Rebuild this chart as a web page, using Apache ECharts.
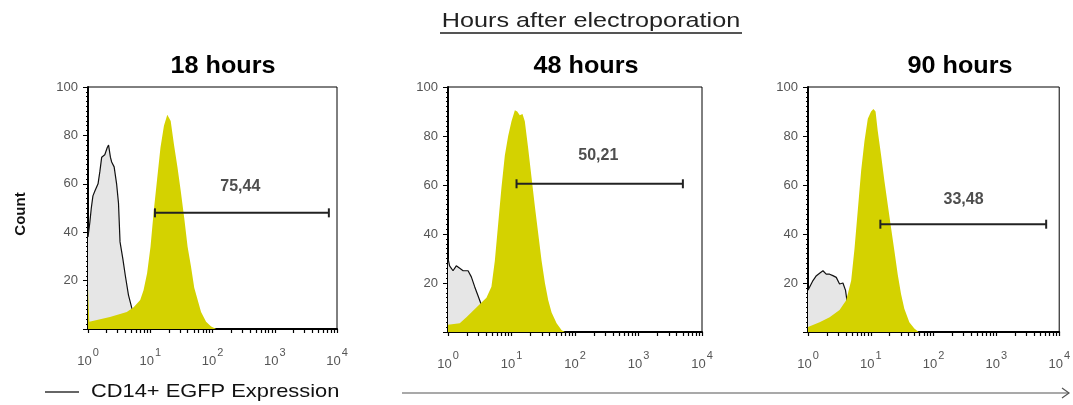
<!DOCTYPE html>
<html>
<head>
<meta charset="utf-8">
<script src="https://cdn.jsdelivr.net/npm/echarts@6/dist/echarts.min.js"></script>
<style>
  html, body { margin: 0; padding: 0; background: #fff; }
  #chart { width: 1073px; height: 405px; }
</style>
</head>
<body>
<div id="chart"></div>
<script>
// panel titles
const panelTitles = ["18 hours", "48 hours", "90 hours"];

// control (unstained) histograms: [intensity, count]
const control18 = [[1, 38], [1.07, 44], [1.13, 50], [1.2, 55], [1.29, 57], [1.45, 60], [1.55, 65], [1.66, 71], [1.86, 72], [2.04, 75], [2.14, 76], [2.29, 71], [2.4, 69], [2.63, 67], [2.88, 60], [3.09, 52], [3.27, 36], [3.63, 29], [3.98, 22], [4.47, 14], [5.01, 9], [5.6, 5], [6.3, 0]];
const control48 = [[1, 30], [1.06, 27], [1.2, 25], [1.35, 27], [1.53, 26], [1.73, 25], [2.07, 25], [2.33, 22.5], [2.63, 18.5], [2.95, 15], [3.36, 11], [3.98, 5], [5.0, 0]];
const control90 = [[1, 17], [1.06, 17], [1.2, 21], [1.36, 23], [1.53, 24], [1.73, 25], [1.95, 23.6], [2.21, 23.6], [2.49, 23], [2.82, 22.3], [3.18, 19.6], [3.6, 20], [3.96, 17], [4.6, 5], [5.6, 0]];

// EGFP histograms
const egfp18 = [[1, 17], [1.05, 3], [1.13, 2.5], [2.25, 5], [4.2, 7], [5.4, 9], [6.9, 12], [7.8, 16], [8.9, 23], [10.1, 34], [11.4, 49], [12.9, 62], [14.6, 75], [16.6, 84], [18.8, 88.5], [20, 88], [21.3, 86], [24.1, 76], [27.3, 67], [30.9, 57], [35.1, 46], [39.8, 34], [45, 26], [50.9, 17], [57.8, 12], [65.5, 7], [78.9, 3], [95, 1], [115, 0]];
const egfp48 = [[1, 3], [1.06, 3], [1.53, 3.6], [1.95, 6], [2.8, 10], [4.03, 14], [4.83, 18.5], [5.46, 29], [6.16, 44], [6.95, 59], [7.85, 72], [8.86, 80], [10, 86], [11.3, 90.5], [12.3, 90], [13.5, 88.5], [14.9, 89], [16.2, 86], [18.3, 75], [20.7, 63], [23.4, 51], [26.4, 40], [29.8, 29], [33.6, 20], [37.9, 13], [42.8, 8], [51.3, 3.6], [61.6, 0.7], [69.5, 0]];
const egfp90 = [[1, 2], [1.06, 2], [1.53, 4], [2.21, 6], [3.18, 9], [4.06, 13], [4.87, 21], [5.5, 34], [6.22, 50], [7.03, 66], [7.93, 78], [8.96, 87], [10.1, 90], [11, 91], [11.9, 90], [12.9, 82], [14.6, 72], [16.5, 61.5], [18.6, 52], [21, 42.6], [23.8, 33], [26.8, 23.6], [30.3, 15.5], [34.2, 9.5], [41.1, 4], [49.3, 1.4], [57.8, 0]];

// gates: [from, to, count level] and percentage label
const gates = [[11.9, 7400, 48], [12, 5000, 60.5], [14.2, 6200, 44]];
const gateLabels = ["75,44", "50,21", "33,48"];
const gateLabelPos = [[280, 59], [233, 72], [300, 54]];

const yTicks = [20, 40, 60, 80, 100];
const xMajorTicks = [1, 10, 100, 1000, 10000];
const xMinorTicks = [2, 3, 4, 5, 6, 7, 8, 9, 20, 30, 40, 50, 60, 70, 80, 90, 200, 300, 400, 500, 600, 700, 800, 900, 2000, 3000, 4000, 5000, 6000, 7000, 8000, 9000];

const controls = [control18, control48, control90];
const egfps = [egfp18, egfp48, egfp90];

const grids = [
  { left: 88, top: 87, width: 249, height: 242 },
  { left: 448, top: 87, width: 254, height: 245 },
  { left: 808, top: 87, width: 253, height: 245 }
];

const chart = echarts.init(document.getElementById("chart"), null, { renderer: "canvas" });

const xAxes = grids.map((g, i) => ({
  type: "log",
  logBase: 10,
  gridIndex: i,
  min: 1,
  max: 10000,
  axisLine: { show: true, onZero: false, lineStyle: { color: "#000", width: 2 } },
  axisTick: { show: true, length: 4, customValues: xMajorTicks.concat(xMinorTicks), lineStyle: { color: "#000", width: 1.2 } },
  splitLine: { show: false },
  axisLabel: {
    margin: 18,
    customValues: xMajorTicks,
    formatter: (v) => "{b|10}{s|" + Math.round(Math.log10(v)) + "}",
    rich: {
      b: { fontSize: 13, color: "#555", fontFamily: "Liberation Sans", verticalAlign: "bottom" },
      s: { fontSize: 11, color: "#555", fontFamily: "Liberation Sans", verticalAlign: "bottom", padding: [0, 0, 10, 1] }
    }
  }
}));

const yAxes = grids.map((g, i) => ({
  type: "value",
  gridIndex: i,
  min: 0,
  max: 100,
  interval: 20,
  axisLine: { show: true, lineStyle: { color: "#000", width: 2 } },
  axisTick: { show: true, length: 5, lineStyle: { color: "#000" } },
  minorTick: { show: true, splitNumber: 10, length: 2, lineStyle: { color: "#000" } },
  splitLine: { show: false },
  axisLabel: {
    color: "#555",
    fontSize: 13,
    fontFamily: "Liberation Sans",
    margin: 10,
    formatter: (v) => (yTicks.includes(v) ? String(v) : "")
  }
}));

const series = [];
grids.forEach((g, i) => {
  series.push({
    type: "line",
    xAxisIndex: i,
    yAxisIndex: i,
    data: controls[i],
    symbol: "none",
    lineStyle: { color: "#111", width: 1.2 },
    areaStyle: { color: "#e6e6e6", opacity: 1 },
    z: 2
  });
  series.push({
    type: "line",
    xAxisIndex: i,
    yAxisIndex: i,
    data: egfps[i],
    symbol: "none",
    lineStyle: { width: 0 },
    areaStyle: { color: "#d4d200", opacity: 1 },
    z: 3
  });
  const gt = gates[i];
  series.push({
    type: "line",
    xAxisIndex: i,
    yAxisIndex: i,
    data: [[gt[0], gt[2]], [gt[1], gt[2]]],
    symbol: "rect",
    symbolSize: [2, 9],
    itemStyle: { color: "#222" },
    lineStyle: { color: "#222", width: 2 },
    z: 4
  });
  series.push({
    type: "scatter",
    xAxisIndex: i,
    yAxisIndex: i,
    data: [gateLabelPos[i]],
    symbolSize: 0,
    label: {
      show: true,
      position: "inside",
      formatter: gateLabels[i],
      color: "#222",
      fontSize: 16,
      fontWeight: "bold",
      fontFamily: "Liberation Sans"
    },
    z: 5
  });
});

const titleCenters = [223, 586, 960];

chart.setOption({
  animation: false,
  grid: grids.map((g) => Object.assign({ show: true, borderColor: "#000", borderWidth: 1, backgroundColor: "transparent" }, g)),
  xAxis: xAxes,
  yAxis: yAxes,
  series: series,
  graphic: [
    {
      type: "text", x: 591, y: 21, scaleX: 1.2,
      style: { text: "Hours after electroporation", fontSize: 21, fontFamily: "Liberation Sans", fill: "#222", align: "center", verticalAlign: "middle" }
    },
    { type: "line", shape: { x1: 440, y1: 33, x2: 742, y2: 33 }, style: { stroke: "#555", lineWidth: 2 } },
    ...panelTitles.map((t, i) => ({
      type: "text", x: titleCenters[i], y: 66, scaleX: 1.05,
      style: { text: t, fontSize: 24, fontWeight: "bold", fontFamily: "Liberation Sans", fill: "#000", align: "center", verticalAlign: "middle" }
    })),
    {
      type: "text", x: 21, y: 214, rotation: Math.PI / 2,
      style: { text: "Count", fontSize: 15, fontWeight: "bold", fontFamily: "Liberation Sans", fill: "#111", align: "center", verticalAlign: "middle" }
    },
    { type: "line", shape: { x1: 45, y1: 392, x2: 79, y2: 392 }, style: { stroke: "#333", lineWidth: 1.5 } },
    {
      type: "text", x: 91, y: 392, scaleX: 1.15,
      style: { text: "CD14+ EGFP Expression", fontSize: 19, fontFamily: "Liberation Sans", fill: "#111", verticalAlign: "middle" }
    },
    { type: "line", shape: { x1: 402, y1: 393, x2: 1069, y2: 393 }, style: { stroke: "#555", lineWidth: 1.2 } },
    { type: "polyline", shape: { points: [[1062, 388], [1069, 393], [1062, 398]] }, style: { stroke: "#555", lineWidth: 1.2, fill: null } }
  ]
});
</script>
</body>
</html>
